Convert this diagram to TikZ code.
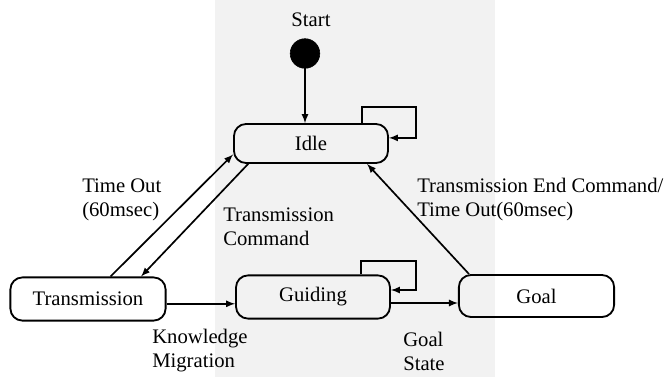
\documentclass[tikz,border=0pt]{standalone}
\usepackage{fontspec}
\setmainfont{Liberation Serif}
\usepackage{tikz}

\begin{document}
\begin{tikzpicture}[
    state/.style={draw, line width=1.3pt, rounded corners=0.3cm, minimum width=3.88cm, minimum height=1.08cm},
    arr/.style={-latex, line width=1.2pt},
    lbl/.style={align=left, anchor=west, inner sep=0pt},
    font=\fontsize{14.7}{17}\selectfont
  ]
  \useasboundingbox (0, 0) rectangle (16.675, 9.425);
  \fill[gray!10] (5.375, 0) rectangle (12.375, 9.425);

  \node (startlbl) at (7.775, 8.925) {Start};
  \node (start) at (7.625, 8.0875) {};
  \filldraw (start) circle (0.37);

  \node[state, minimum width=3.85cm, minimum height=0.975cm] (idle) at (7.775, 5.8375) {Idle};
  \node[state] (trans) at (2.2, 1.95) {Transmission};
  \node[state, minimum width=3.85cm] (guid) at (7.825, 2.0) {Guiding};
  \node[state, minimum height=1.05cm] (goal) at (13.4125, 2.025) {Goal};

  \draw[arr] (start.center) -- (start.center |- idle.north);
  \draw[arr] ([xshift=1.275cm]idle.north) -- ++(0, 0.4) -| ([xshift=0.675cm, yshift=0.14cm]idle.east) -- ([yshift=0.14cm]idle.east);
  \draw[arr] ([xshift=1.2cm]guid.north) -- ++(0, 0.33) -| ([xshift=0.625cm, yshift=0.175cm]guid.east) -- ([yshift=0.175cm]guid.east);

  \draw[arr] (trans.45) -- (idle.188);
  \draw[arr] (idle.198) -- (trans.23);
  \draw[arr] ([yshift=-0.12cm]trans.east) -- ([yshift=-0.12cm]trans.east -| guid.west);
  \draw[arr] ([yshift=-0.15cm]guid.east) -- ([yshift=-0.15cm]guid.east -| goal.west);
  \draw[arr] (goal.162) -- (idle.-20);

  \node[lbl] (timeout) at (2.05, 4.425) {Time Out\\(60msec)};
  \node[lbl] (transcmd) at (5.575, 3.7625) {Transmission\\Command};
  \node[lbl] (endcmd) at (10.425, 4.4375) {Transmission End Command/\\Time Out(60msec)};
  \node[lbl] (migr) at (3.8, 0.65) {Knowledge\\Migration};
  \node[lbl] (goalst) at (10.075, 0.65) {Goal\\State};
\end{tikzpicture}
\end{document}
